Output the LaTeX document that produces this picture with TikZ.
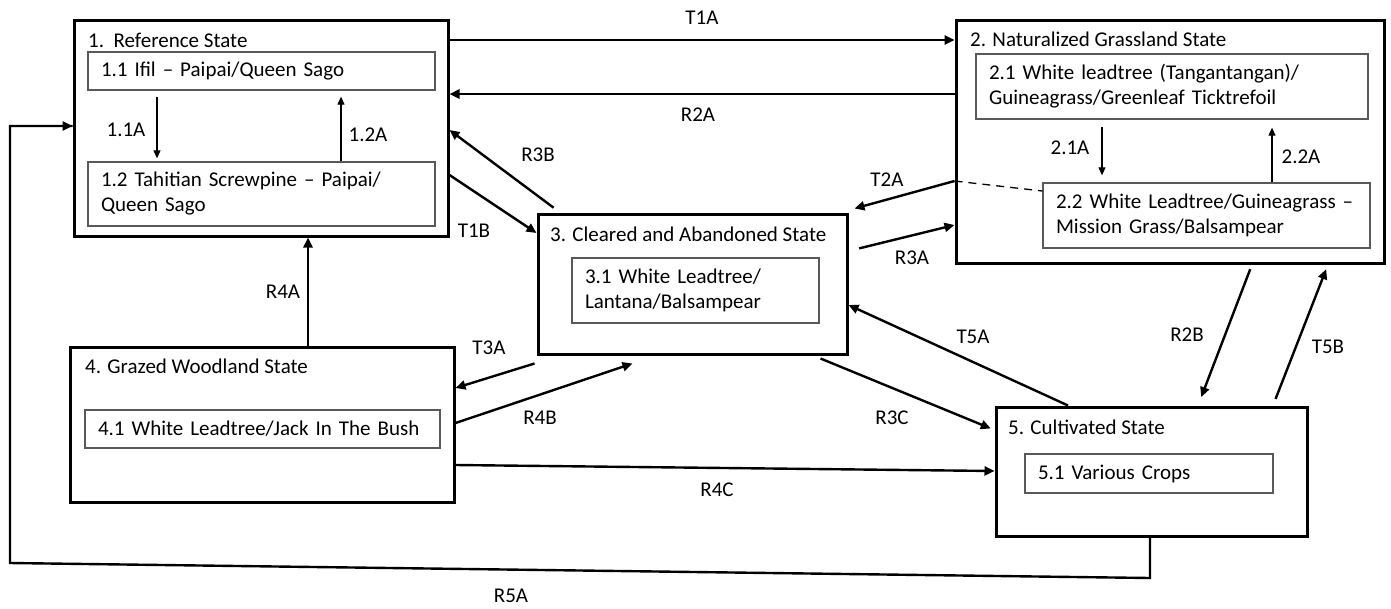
\documentclass[tikz,border=0pt]{standalone}
\usepackage{fontspec}
\setmainfont{Carlito}
\usetikzlibrary{arrows.meta,calc}
\begin{document}
\begin{tikzpicture}[x=1pt,y=-1pt,
 font=\fontsize{21}{25}\selectfont,
 outer/.style={draw, line width=3pt, inner sep=0pt},
 inbox/.style={draw=black!65, line width=1.3pt, inner ysep=0pt, inner xsep=13pt, align=left},
 ttl/.style={anchor=west, inner sep=0pt},
 lbl/.style={inner sep=0pt},
 arr/.style={line width=2.4pt, -{Triangle[length=10pt,width=9pt]}},
 iarr/.style={line width=1.1pt, -{Triangle[length=8pt,width=7pt]}}]
\useasboundingbox (0,0) rectangle (1391,608);

% outer state boxes
\node[outer, minimum width=374, minimum height=216] (b1) at (261,128) {};
\node[outer, minimum width=428, minimum height=243] (b2) at (1170,141.5) {};
\node[outer, minimum width=309, minimum height=140] (b3) at (692.5,284) {};
\node[outer, minimum width=384, minimum height=155] (b4) at (262,424.5) {};
\node[outer, minimum width=311, minimum height=129] (b5) at (1151.5,471.5) {};

% titles
\node[ttl] (t1) at (88,40) {1.\ \ Reference State};
\node[ttl] (t2) at (970,39) {2. Naturalized Grassland State};
\node[ttl] (t3) at (550,234) {3. Cleared and Abandoned State};
\node[ttl] (t4) at (85,366) {4. Grazed Woodland State};
\node[ttl] (t5) at (1008,427) {5. Cultivated State};

% community boxes
\node[inbox, minimum width=347, minimum height=38, text width=321] (b11) at (261.5,71) {1.1 Ifil – Paipai/Queen Sago};
\node[inbox, minimum width=347, minimum height=64, text width=321] (b12) at (261.5,194) {1.2 Tahitian Screwpine – Paipai/\\Queen Sago};
\node[inbox, minimum width=392, minimum height=65, text width=366] (b21) at (1172,86.5) {2.1 White leadtree (Tangantangan)/\\Guineagrass/Greenleaf Ticktrefoil};
\node[inbox, minimum width=327, minimum height=65, text width=301] (b22) at (1206.5,215.5) {2.2 White Leadtree/Guineagrass –\\Mission Grass/Balsampear};
\node[inbox, minimum width=247, minimum height=65, text width=221] (b31) at (695.5,290.5) {3.1 White Leadtree/\\Lantana/Balsampear};
\node[inbox, minimum width=355, minimum height=38, text width=329] (b41) at (262.5,429) {4.1 White Leadtree/Jack In The Bush};
\node[inbox, minimum width=248, minimum height=39, text width=222] (b51) at (1149,473.5) {5.1 Various Crops};

% inner transitions
\draw[iarr, shorten <=6pt, shorten >=3pt] (b11.south -| 157,0) -- (b12.north -| 157,0);
\draw[iarr, shorten >=6pt] (b12.north -| 341,0) -- (b11.south -| 341,0);
\draw[iarr, shorten <=7pt, shorten >=7pt] (b21.south -| 1102,0) -- (b22.north -| 1102,0);
\draw[iarr, shorten >=8pt] (b22.north -| 1272,0) -- (b21.south -| 1272,0);
\node[lbl] (l11A) at (126,130) {1.1A};
\node[lbl] (l12A) at (368,135) {1.2A};
\node[lbl] (l21A) at (1070,148) {2.1A};
\node[lbl] (l22A) at (1301,157) {2.2A};

% state transitions
\draw[arr] (b1.east |- 0,40) -- (b2.west |- 0,40);
\draw[arr] (b2.west |- 0,94) -- (b1.east |- 0,94);
\draw[arr, shorten <=8pt] (560,0 |- b3.north) -- (b1.east |- 0,130);
\draw[arr] (b1.east |- 0,175) -- (b3.west |- 0,233);
\draw[arr] (b2.west |- 0,181) -- ($(b3.north east)+(6,-4)$);
\draw[line width=1.3pt, dash pattern=on 8pt off 6pt] (b2.west |- 0,181) -- (b22.west |- 0,191);
\draw[arr, shorten <=11pt] (b3.east |- 0,251) -- (b2.west |- 0,225);
\draw[arr] ($(b3.south west)+(-2,8)$) -- (b4.east |- 0,388);
\draw[arr] (b4.east |- 0,423) -- ($(b3.south west)+(96,8)$);
\draw[arr] (b4.north -| 308,0) -- (b1.south -| 308,0);
\draw[arr] (b4.east |- 0,465) -- (b5.west |- 0,471);
\draw[arr] (1068,0 |- b5.north) -- (b3.east |- 0,305);
\draw[arr, shorten >=4pt] ($(b3.south east)+(-28,3)$) -- (b5.west |- 0,430);
\draw[arr, shorten <=5pt, shorten >=9pt] (1252,0 |- b2.south) -- (1198,0 |- b5.north);
\draw[arr, shorten <=7pt, shorten >=5pt] (1273,0 |- b5.north) -- (1328,0 |- b2.south);
\draw[line width=2.4pt, line join=miter] (b5.south -| 1150,0) -- (1150,578) -- (10,563) -- (10,126) -- (b1.west |- 0,126);
\draw[arr] (40,126) -- (b1.west |- 0,126);

% labels
\node[lbl] (lT1A) at (702,18) {T1A};
\node[lbl] (lR2A) at (698,115) {R2A};
\node[lbl] (lR3B) at (538,155) {R3B};
\node[lbl] (lT1B) at (474,231) {T1B};
\node[lbl] (lT2A) at (887,180) {T2A};
\node[lbl] (lR3A) at (912,258) {R3A};
\node[lbl] (lT3A) at (489,348) {T3A};
\node[lbl] (lR4B) at (540,418) {R4B};
\node[lbl] (lR4A) at (283,292) {R4A};
\node[lbl] (lR4C) at (717,490) {R4C};
\node[lbl] (lT5A) at (973,337) {T5A};
\node[lbl] (lR3C) at (892,418) {R3C};
\node[lbl] (lR2B) at (1187,335) {R2B};
\node[lbl] (lT5B) at (1328,347) {T5B};
\node[lbl] (lR5A) at (511,596) {R5A};
\end{tikzpicture}
\end{document}
